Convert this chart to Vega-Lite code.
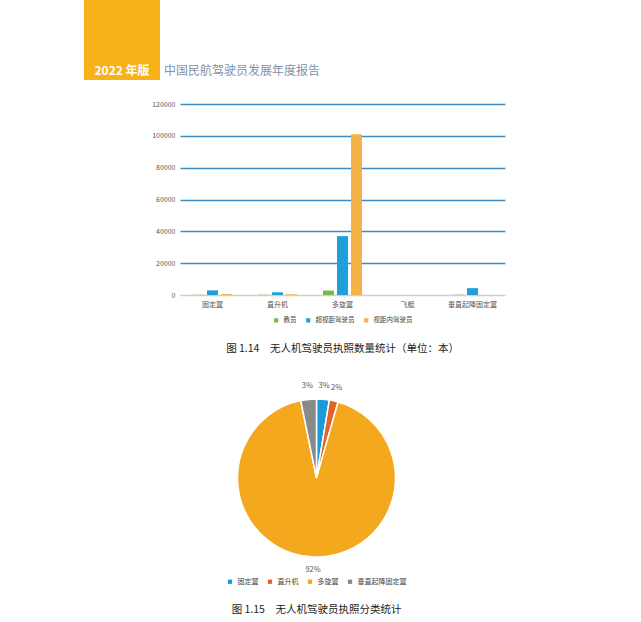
{
  "$schema": "https://vega.github.io/schema/vega-lite/v6.json",
  "background": "white",
  "padding": {"left": 84, "right": 85, "top": 0, "bottom": 0},
  "config": {
    "font": "Noto Sans CJK SC",
    "view": {"stroke": null},
    "legend": {
      "orient": "bottom",
      "direction": "horizontal",
      "title": null,
      "symbolType": "square",
      "symbolSize": 18,
      "labelFontSize": 6.5,
      "labelColor": "#444",
      "columnPadding": 8,
      "symbolStrokeWidth": 0,
      "layout": {"bottom": {"anchor": "middle"}}
    }
  },
  "datasets": {
    "licences": [
      {"type": "固定翼", "role": "教员", "count": 200},
      {"type": "固定翼", "role": "超视距驾驶员", "count": 2900},
      {"type": "固定翼", "role": "视距内驾驶员", "count": 600},
      {"type": "直升机", "role": "教员", "count": 200},
      {"type": "直升机", "role": "超视距驾驶员", "count": 1700},
      {"type": "直升机", "role": "视距内驾驶员", "count": 500},
      {"type": "多旋翼", "role": "教员", "count": 2800},
      {"type": "多旋翼", "role": "超视距驾驶员", "count": 37000},
      {"type": "多旋翼", "role": "视距内驾驶员", "count": 101000},
      {"type": "飞艇", "role": "教员", "count": 0},
      {"type": "飞艇", "role": "超视距驾驶员", "count": 10},
      {"type": "飞艇", "role": "视距内驾驶员", "count": 0},
      {"type": "垂直起降固定翼", "role": "教员", "count": 200},
      {"type": "垂直起降固定翼", "role": "超视距驾驶员", "count": 4300},
      {"type": "垂直起降固定翼", "role": "视距内驾驶员", "count": 0}
    ],
    "share": [
      {"type": "固定翼", "share": 0.026, "rank": 1},
      {"type": "直升机", "share": 0.018, "rank": 2},
      {"type": "多旋翼", "share": 0.924, "rank": 3},
      {"type": "垂直起降固定翼", "share": 0.032, "rank": 4}
    ]
  },
  "center": true,
  "spacing": 20,
  "vconcat": [
    {
      "spacing": 4,
      "hconcat": [
        {
          "width": 76,
          "height": 80,
          "view": {"fill": "#F9B11A", "stroke": null},
          "data": {"values": [{"t": "2022 年版"}]},
          "mark": {"type": "text", "color": "white", "fontWeight": "bold", "fontSize": 12, "dy": 31},
          "encoding": {"text": {"field": "t"}}
        },
        {
          "width": 392,
          "height": 80,
          "data": {"values": [{"t": "中国民航驾驶员发展年度报告"}]},
          "mark": {"type": "text", "color": "#7f93ad", "fontSize": 12, "align": "left", "dx": -196, "dy": 31},
          "encoding": {"text": {"field": "t"}}
        }
      ]
    },
    {
      "center": true,
      "spacing": 27,
      "resolve": {"scale": {"color": "independent"}, "legend": {"color": "independent"}},
      "vconcat": [
        {
          "spacing": 0,
          "resolve": {"scale": {"color": "independent"}, "legend": {"color": "independent"}},
          "hconcat": [
            {
              "width": 20,
              "height": 191,
              "data": {"values": []},
              "mark": "point"
            },
            {
              "width": 325,
              "height": 191,
              "data": {"name": "licences"},
              "title": {
                "text": "图 1.14　无人机驾驶员执照数量统计（单位：本）",
                "orient": "bottom",
                "fontSize": 10.5,
                "fontWeight": "normal",
                "color": "#222",
                "offset": 20
              },
              "mark": {"type": "bar"},
              "encoding": {
                "x": {
                  "field": "type",
                  "type": "nominal",
                  "sort": ["固定翼", "直升机", "多旋翼", "飞艇", "垂直起降固定翼"],
                  "scale": {"paddingInner": 0, "paddingOuter": 0},
                  "axis": {
                    "title": null,
                    "labelAngle": 0,
                    "labelFontSize": 7,
                    "labelColor": "#555",
                    "ticks": false,
                    "domainColor": "#cfcfcf",
                    "labelPadding": 5
                  }
                },
                "xOffset": {
                  "field": "role",
                  "sort": ["教员", "超视距驾驶员", "视距内驾驶员"],
                  "scale": {"paddingInner": 0.214, "paddingOuter": 0.93}
                },
                "y": {
                  "field": "count",
                  "type": "quantitative",
                  "scale": {"domain": [0, 120000]},
                  "axis": {
                    "title": null,
                    "values": [0, 20000, 40000, 60000, 80000, 100000, 120000],
                    "format": "d",
                    "domain": false,
                    "ticks": false,
                    "labelFontSize": 7,
                    "labelColor": "#555",
                    "labelPadding": 5,
                    "gridWidth": 1.5,
                    "gridColor": {"condition": {"test": "datum.value === 0", "value": "#cfcfcf"}, "value": "#3a8ec4"}
                  }
                },
                "color": {
                  "field": "role",
                  "type": "nominal",
                  "scale": {
                    "domain": ["教员", "超视距驾驶员", "视距内驾驶员"],
                    "range": ["#77bb4b", "#1ea0dc", "#f5b247"]
                  },
                  "legend": {"offset": 10}
                }
              }
            },
            {
              "width": 4,
              "height": 191,
              "data": {"values": []},
              "mark": "point"
            }
          ]
        },
        {
          "spacing": 0,
          "resolve": {"scale": {"color": "independent"}, "legend": {"color": "independent"}},
          "hconcat": [
            {
              "width": 180,
              "height": 180,
              "data": {"name": "share"},
              "title": {
                "text": "图 1.15　无人机驾驶员执照分类统计",
                "orient": "bottom",
                "fontSize": 10.5,
                "fontWeight": "normal",
                "color": "#222",
                "offset": 20
              },
              "encoding": {
                "theta": {"field": "share", "type": "quantitative", "stack": true},
                "order": {"field": "rank", "type": "quantitative"},
                "color": {
                  "field": "type",
                  "type": "nominal",
                  "sort": ["固定翼", "直升机", "多旋翼", "垂直起降固定翼"],
                  "scale": {
                    "domain": ["固定翼", "直升机", "多旋翼", "垂直起降固定翼"],
                    "range": ["#1a9ad6", "#e0632b", "#f4a81d", "#8a8a8a"]
                  },
                  "legend": {"labelFontSize": 7, "offset": 10}
                }
              },
              "layer": [
                {
                  "mark": {"type": "arc", "outerRadius": 79, "stroke": "white", "strokeWidth": 1.5}
                },
                {
                  "mark": {"type": "text", "radius": 92, "fontSize": 7.5, "color": "#555"},
                  "encoding": {
                    "text": {"field": "share", "type": "quantitative", "format": ".0%"},
                    "color": {"value": "#555"}
                  }
                }
              ]
            },
            {
              "width": 7,
              "height": 180,
              "data": {"values": []},
              "mark": "point"
            }
          ]
        }
      ]
    }
  ]
}
